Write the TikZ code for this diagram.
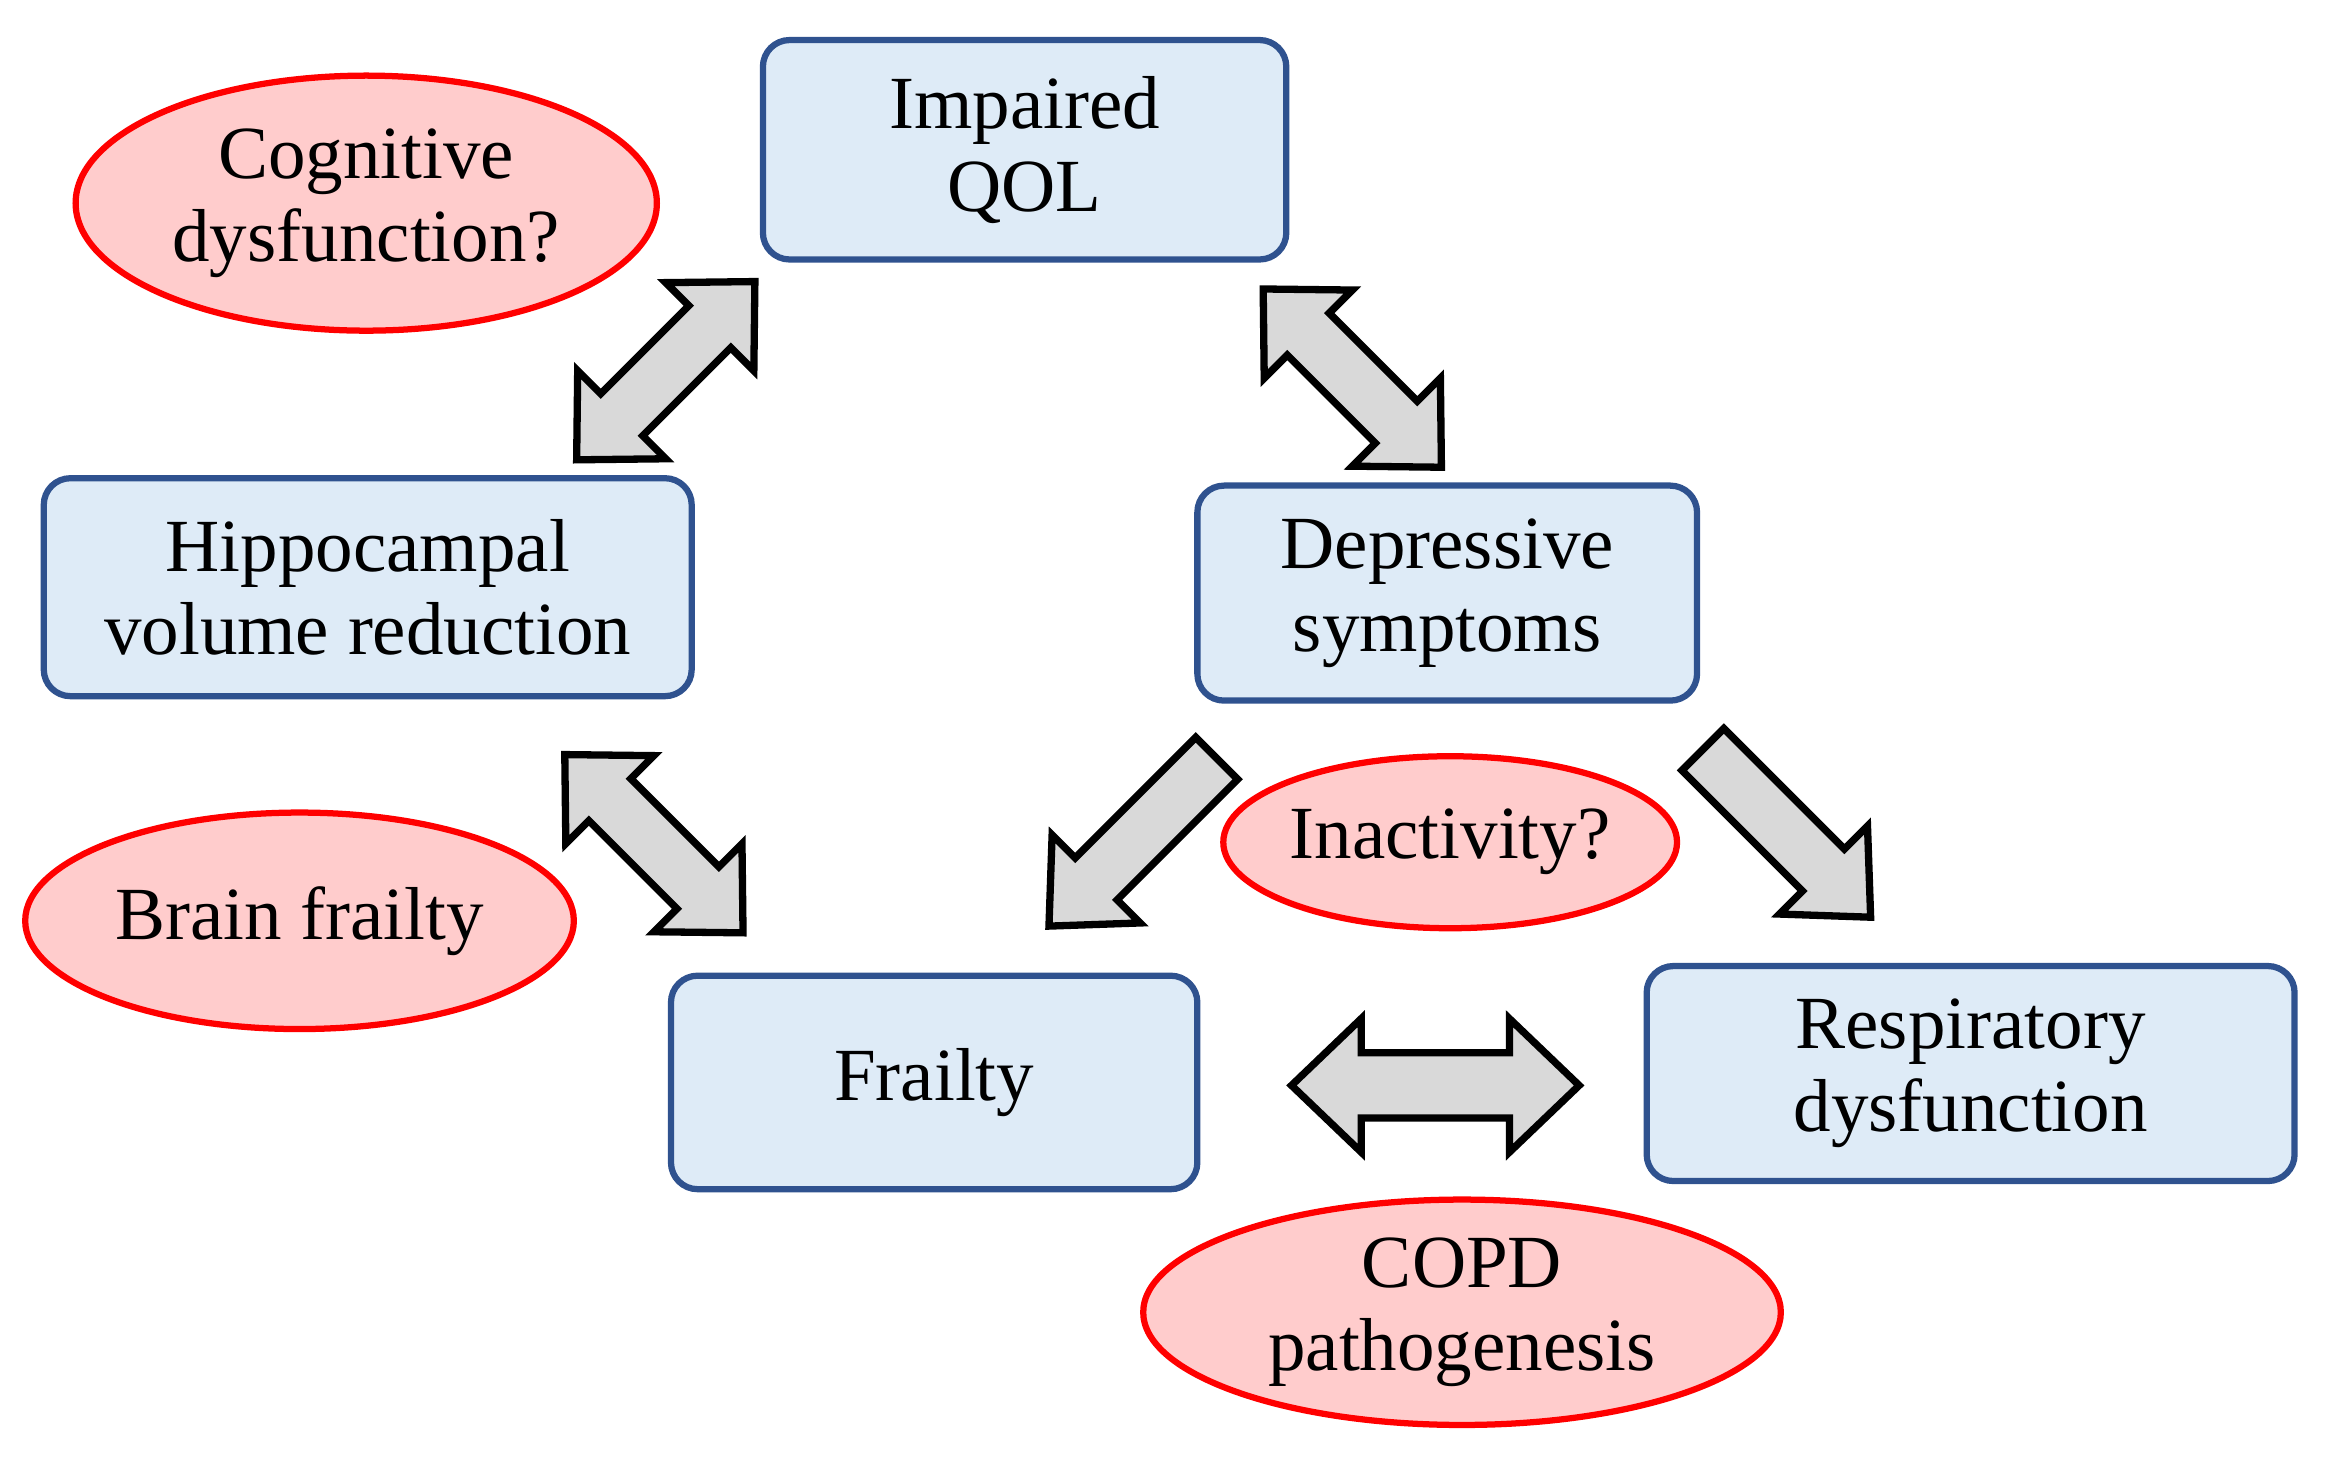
\documentclass[tikz,border=0pt]{standalone}
\usepackage{fontspec}
\setmainfont{Liberation Serif}
\definecolor{boxfill}{RGB}{222,235,247}
\definecolor{boxline}{RGB}{47,82,143}
\definecolor{ellfill}{RGB}{255,204,204}
\definecolor{arrfill}{RGB}{217,217,217}
\begin{document}
\begin{tikzpicture}[x=0.05cm,y=-0.05cm,
  box/.style={draw=boxline,line width=6pt,fill=boxfill,rounded corners=0.9cm,align=center,font=\fontsize{72}{80}\selectfont},
  ell/.style={draw=red,line width=6pt,fill=ellfill},
  lbl/.style={font=\fontsize{72}{80}\selectfont,align=center},
  fat/.style={draw=black,line width=7pt,fill=arrfill,line join=miter}]
\useasboundingbox (0,0) rectangle (1568,987);
\node[box,minimum width=17.65cm,minimum height=7.4cm] (qol) at (691,101) {Impaired\\QOL};
\node[box,minimum width=21.85cm,minimum height=7.35cm] (hip) at (248,396) {Hippocampal\\volume reduction};
\node[box,minimum width=16.85cm,minimum height=7.25cm] (dep) at (976,400) {Depressive\\symptoms};
\node[box,minimum width=17.75cm,minimum height=7.2cm] (fra) at (630,730) {Frailty};
\node[box,minimum width=21.85cm,minimum height=7.25cm] (res) at (1329,724) {Respiratory\\dysfunction};
\draw[ell] (247,137) ellipse [x radius=196,y radius=86];
\node[lbl] (cog) at (247,137) {Cognitive\\dysfunction?};
\draw[ell] (202,621) ellipse [x radius=185,y radius=73];
\node[lbl] (bra) at (202,621) {Brain frailty};
\draw[ell] (978,568) ellipse [x radius=153,y radius=58];
\node[lbl] (ina) at (978,568) {Inactivity?};
\draw[ell] (986,885) ellipse [x radius=215,y radius=76];
\node[lbl] (cop) at (986,885) {COPD\\pathogenesis};
\begin{scope}[shift={(449,250)},rotate=45]
\draw[fat] (-85,0)--(-42,42)--(-42,20)--(42,20)--(42,42)--(85,0)--(42,-42)--(42,-20)--(-42,-20)--(-42,-42)--cycle;
\end{scope}
\begin{scope}[shift={(912,255)},rotate=-45]
\draw[fat] (-85,0)--(-42,42)--(-42,20)--(42,20)--(42,42)--(85,0)--(42,-42)--(42,-20)--(-42,-20)--(-42,-42)--cycle;
\end{scope}
\begin{scope}[shift={(441,569)},rotate=-45]
\draw[fat] (-85,0)--(-42,42)--(-42,20)--(42,20)--(42,42)--(85,0)--(42,-42)--(42,-20)--(-42,-20)--(-42,-42)--cycle;
\end{scope}
\begin{scope}[shift={(764,568)},rotate=-135]
\draw[fat] (-80,20)--(35,20)--(35,42)--(80,0)--(35,-42)--(35,-20)--(-80,-20)--cycle;
\end{scope}
\begin{scope}[shift={(1205,562)},rotate=-45]
\draw[fat] (-80,20)--(35,20)--(35,42)--(80,0)--(35,-42)--(35,-20)--(-80,-20)--cycle;
\end{scope}
\begin{scope}[shift={(968,732)}]
\draw[fat] (-97,0)--(-50,45)--(-50,22)--(50,22)--(50,45)--(97,0)--(50,-45)--(50,-22)--(-50,-22)--(-50,-45)--cycle;
\end{scope}
\end{tikzpicture}
\end{document}
